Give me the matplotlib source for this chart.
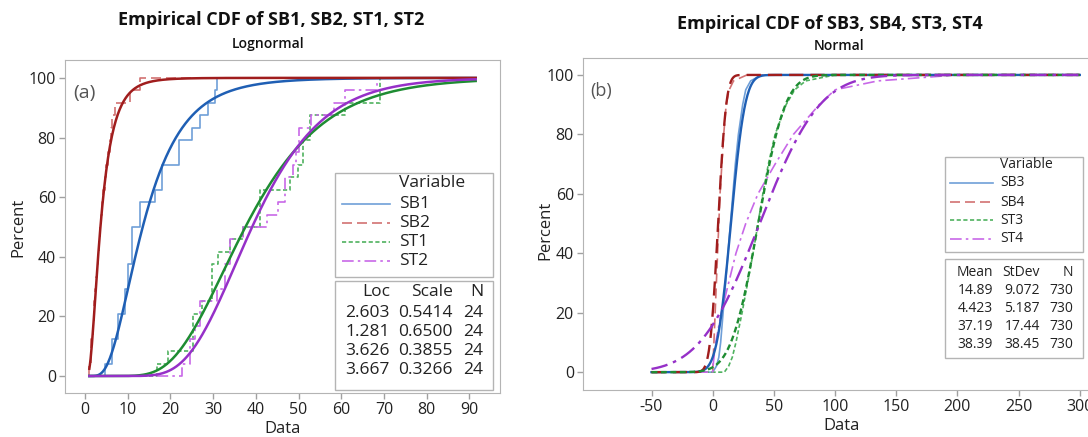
import math
import numpy as np
import matplotlib
matplotlib.use("Agg")
import matplotlib.pyplot as plt
from matplotlib.lines import Line2D
from matplotlib.patches import Rectangle

plt.rcParams["font.family"] = ["Open Sans", "DejaVu Sans"]
plt.rcParams["axes.unicode_minus"] = False

# ---------- data: panel (a), lognormal fits, 24 obs each ----------
left_names = ["SB1", "SB2", "ST1", "ST2"]
left_loc = [2.603, 1.281, 3.626, 3.667]
left_scale = [0.5414, 0.6500, 0.3855, 0.3266]
left_n = [24, 24, 24, 24]

sb1 = [4.7, 6.2, 6.2, 7.8, 7.8, 9.4, 9.4, 10.0, 10.0, 10.9, 10.9, 10.9,
       12.9, 12.9, 16.4, 18.0, 18.0, 21.9, 21.9, 25.0, 26.9, 28.9, 30.5, 30.9]
sb2 = [1.0, 1.3, 1.5, 1.8, 2.0, 2.2, 2.4, 2.6, 2.8, 3.0, 3.2, 3.5,
       3.7, 4.0, 4.3, 4.6, 5.0, 5.3, 5.8, 6.1, 6.3, 7.0, 10.5, 12.9]
st1 = [16.8, 19.5, 25.4, 25.4, 25.4, 27.3, 29.7, 29.7, 29.7, 31.2, 34.0, 37.1,
       41.0, 41.0, 41.0, 48.0, 49.9, 51.1, 51.1, 52.7, 52.7, 60.9, 69.0, 69.0]
st2 = [22.6, 24.6, 24.6, 25.8, 26.9, 26.9, 30.8, 32.8, 32.8, 34.0, 34.0, 37.1,
       42.6, 45.3, 46.8, 46.8, 48.8, 49.5, 50.0, 50.0, 52.9, 58.2, 60.9, 68.5]
left_data = [sb1, sb2, st1, st2]

# ---------- data: panel (b), normal fits, 730 obs each ----------
right_names = ["SB3", "SB4", "ST3", "ST4"]
right_mean = [14.89, 4.423, 37.19, 38.39]
right_sd = [9.072, 5.187, 17.44, 38.45]
right_n = [730, 730, 730, 730]

# empirical curves (percent level -> data value)
emp_pct = [0, 2, 5, 10, 20, 30, 40, 50, 60, 70, 80, 90, 95, 98, 100]
sb3_q = [0, 3, 5, 6.5, 8.5, 10.5, 12.5, 14.5, 16.5, 18.5, 21, 24.5, 27, 31, 40]
sb4_q = [0, 0.2, 0.5, 1.0, 2.0, 3.0, 4.0, 5.0, 6.0, 7.5, 9.0, 11.0, 13.5, 17, 28]
st3_q = [9.5, 13, 16, 19, 24, 28.5, 33, 37, 41, 45.5, 51, 60, 67, 76, 100]
st4_q = [0, 0.3, 1, 2.5, 7, 13, 19, 27, 37, 51, 66, 87, 100, 135, 200]
right_q = [sb3_q, sb4_q, st3_q, st4_q]

# styles
fit_cols = ["#1f5fb4", "#a01d1d", "#1e8c32", "#9630c8"]
emp_cols = ["#6f9fd8", "#d27272", "#4fb25f", "#c868e8"]
styles = ["-", (0, (6, 3)), (0, (2.5, 1.5)), (0, (7, 2.5, 1.5, 2.5))]

W, H = 1088, 437
erf = np.frompyfunc(math.erf, 1, 1)


def fx(px):
    return px / W


def fy(py):
    return 1 - py / H


def lognorm_cdf(x, mu, s):
    return 50 * (1 + erf((np.log(x) - mu) / (s * math.sqrt(2))).astype(float))


def norm_cdf(x, m, s):
    return 50 * (1 + erf((x - m) / (s * math.sqrt(2))).astype(float))


def style_axes(ax, spines):
    for k, sp in ax.spines.items():
        sp.set_color("#b4b4b4")
        sp.set_visible(k in spines)
    ax.tick_params(colors="#a0a0a0", labelcolor="#222222", labelsize=11.5,
                   length=4, width=1, pad=2.5)


def box_legend(fig, box, rows, names, cols, line_x, text_x, size):
    x0, y0, x1, y1 = box
    fig.add_artist(Rectangle((fx(x0), fy(y1)), fx(x1 - x0), (y1 - y0) / H,
                             transform=fig.transFigure, fill=False,
                             ec="#b4b4b4", lw=1))
    fig.text(fx(text_x), fy(rows[0]), "Variable", fontsize=size,
             va="center", ha="left", color="#222222")
    for i, nm in enumerate(names):
        y = fy(rows[i + 1])
        fig.add_artist(Line2D([fx(line_x[0]), fx(line_x[1])], [y, y],
                              transform=fig.transFigure, color=cols[i],
                              ls=styles[i], lw=1.2))
        fig.text(fx(text_x), y, nm, fontsize=size, va="center", ha="left",
                 color="#222222")


def box_table(fig, box, rows, header, cells, col_x, size):
    x0, y0, x1, y1 = box
    fig.add_artist(Rectangle((fx(x0), fy(y1)), fx(x1 - x0), (y1 - y0) / H,
                             transform=fig.transFigure, fill=False,
                             ec="#b4b4b4", lw=1))
    for j, h in enumerate(header):
        fig.text(fx(col_x[j]), fy(rows[0]), h, fontsize=size, ha="right",
                 va="center", color="#222222")
    for i, row in enumerate(cells):
        for j, c in enumerate(row):
            fig.text(fx(col_x[j]), fy(rows[i + 1]), c, fontsize=size,
                     ha="right", va="center", color="#222222")


fig = plt.figure(figsize=(W / 100, H / 100), dpi=100)

# ---------------- panel (a) ----------------
ax1 = fig.add_axes([fx(65), fy(393), fx(500 - 65), (393 - 60) / H])
xs = np.linspace(1, 91.5, 600)
for i in range(4):
    vals = sorted(left_data[i])
    n = len(vals)
    sx = [1] + vals + [91.5]
    sy = [0] + [100 * (k + 1) / n for k in range(n)] + [100]
    ax1.step(sx, sy, where="post", color=emp_cols[i], ls=styles[i], lw=1.2)
for i in range(4):
    ax1.plot(xs, lognorm_cdf(xs, left_loc[i], left_scale[i]),
             color=fit_cols[i], lw=1.8)
ax1.set_xlim(-4.7, 97.2)
ax1.set_ylim(-5.7, 106)
ax1.set_xticks(range(0, 91, 10))
ax1.set_yticks(range(0, 101, 20))
style_axes(ax1, ["left", "bottom", "top", "right"])
ax1.text(0.02, 0.9, "(a)", transform=ax1.transAxes, fontsize=14,
         color="#555555", va="center")

fig.text(fx(271), fy(20), "Empirical CDF of SB1, SB2, ST1, ST2", ha="center",
         va="center", fontsize=13, fontweight="bold", color="#111111")
fig.text(fx(268), fy(44), "Lognormal", ha="center", va="center",
         fontsize=10, fontweight="semibold", color="#111111")
fig.text(fx(18), fy(227), "Percent", rotation=90, ha="center", va="center",
         fontsize=12, color="#222222")
fig.text(fx(283), fy(429), "Data", ha="center", va="center", fontsize=12,
         color="#222222")

box_legend(fig, (335, 173, 493, 277), [183, 204, 223, 242, 261], left_names,
           emp_cols, (342, 390), 399, 12.5)
box_table(fig, (335, 281, 493, 390), [292, 313, 332, 351, 370],
          ["Loc", "Scale", "N"],
          [[f"{left_loc[i]:.3f}", f"{left_scale[i]:.4f}", str(left_n[i])]
           for i in range(4)],
          [390, 453, 483], 12.5)

# ---------------- panel (b) ----------------
ax2 = fig.add_axes([fx(583), fy(390), fx(1092 - 583), (390 - 58) / H])
xr = np.linspace(-50, 300, 800)
for i in range(4):
    qx = [-50] + right_q[i] + [300]
    qy = [0] + emp_pct + [100]
    ax2.plot(qx, qy, color=emp_cols[i], ls=styles[i], lw=1.2)
for i in range(4):
    ax2.plot(xr, norm_cdf(xr, right_mean[i], right_sd[i]), color=fit_cols[i],
             ls=styles[i], lw=1.7)
ax2.set_xlim(-106, 310)
ax2.set_ylim(-6, 105.7)
ax2.set_xticks(range(-50, 301, 50))
ax2.set_yticks(range(0, 101, 20))
style_axes(ax2, ["left", "bottom", "top"])
ax2.text(0.015, 0.9, "(b)", transform=ax2.transAxes, fontsize=13,
         color="#555555", va="center")

fig.text(fx(830), fy(24), "Empirical CDF of SB3, SB4, ST3, ST4", ha="center",
         va="center", fontsize=13, fontweight="bold", color="#111111")
fig.text(fx(839), fy(46), "Normal", ha="center", va="center",
         fontsize=10, fontweight="semibold", color="#111111")
fig.text(fx(545), fy(230), "Percent", rotation=90, ha="center", va="center",
         fontsize=12, color="#222222")
fig.text(fx(842), fy(426), "Data", ha="center", va="center", fontsize=12,
         color="#222222")

box_legend(fig, (945, 157, 1083, 252), [165, 183, 202, 220, 239], right_names,
           emp_cols, (950, 993), 1000, 10)
box_table(fig, (945, 259, 1083, 358), [272, 290, 308, 327, 345],
          ["Mean", "StDev", "N"],
          [[f"{right_mean[i]:.4g}", f"{right_sd[i]:.4g}", str(right_n[i])]
           for i in range(4)],
          [993, 1040, 1073], 10)

fig.savefig("out.png", dpi=100)
